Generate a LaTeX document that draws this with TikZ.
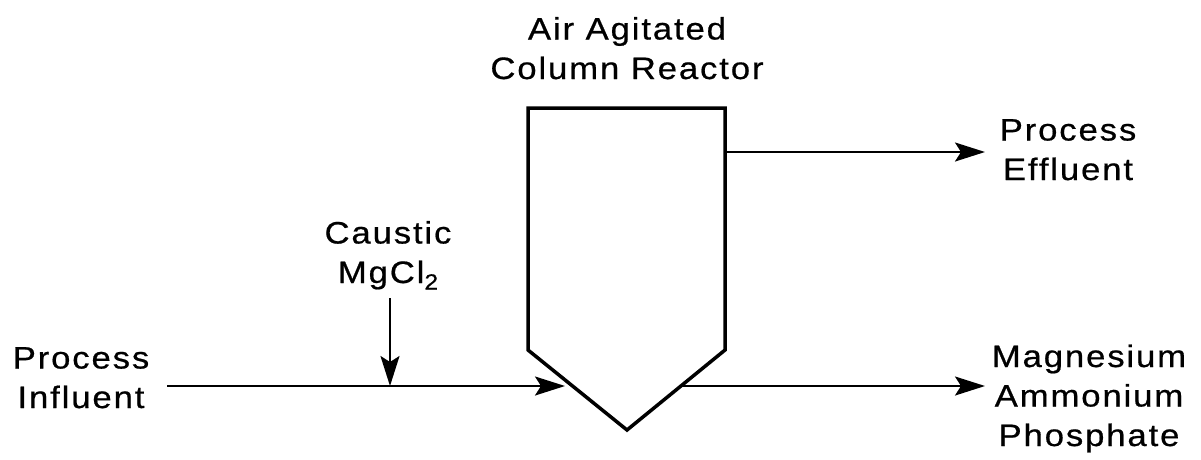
\documentclass[tikz,border=0pt]{standalone}
\usepackage{fontspec}
\usetikzlibrary{arrows.meta}
\newfontfamily\lab[FakeStretch=1.12,LetterSpace=6,FakeBold=0.6]{Liberation Sans}
\begin{document}
\begin{tikzpicture}[x=1pt,y=-1pt,
  lbl/.style={font=\lab\fontsize{31}{39.5}\selectfont, align=center, inner sep=0pt, anchor=base},
  flow/.style={line width=2pt, -{Stealth[length=30pt,width=19pt,inset=6pt]}},
  vessel/.style={line width=3.5pt, line join=miter}]
\useasboundingbox (0,0) rectangle (1201,459);
% reactor
\coordinate (tl) at (528,108);
\coordinate (tr) at (725,108);
\coordinate (rr) at (725,350);
\coordinate (tip) at (627,430);
\coordinate (ll) at (528,350);
\draw[vessel] (tl) -- (tr) -- (rr) -- (tip) -- (ll) -- cycle;
% labels (anchored at baseline of last line)
\node[lbl] (reactor) at (627,79) {Air Agitated\\Column Reactor};
\node[lbl] (effl) at (1068,180) {Process\\Effluent};
\node[lbl] (caus) at (388,283) {Caustic\\MgCl\raisebox{-0.4ex}{\fontsize{22}{22}\selectfont 2}};
\node[lbl] (infl) at (81,408) {Process\\Influent};
\node[lbl] (map) at (1089,446) {Magnesium\\Ammonium\\Phosphate};
% connectors
\coordinate (inS) at (167,386);
\coordinate (inE) at (565,386);
\coordinate (cS) at (390,298);
\coordinate (cE) at (390,386);
\coordinate (efS) at (725,152);
\coordinate (efE) at (985,152);
\coordinate (mS) at (683,386);
\coordinate (mE) at (985,386);
\draw[flow] (inS) -- (inE);
\draw[flow] (cS) -- (cE);
\draw[flow] (efS) -- (efE);
\draw[flow] (mS) -- (mE);
\end{tikzpicture}
\end{document}
